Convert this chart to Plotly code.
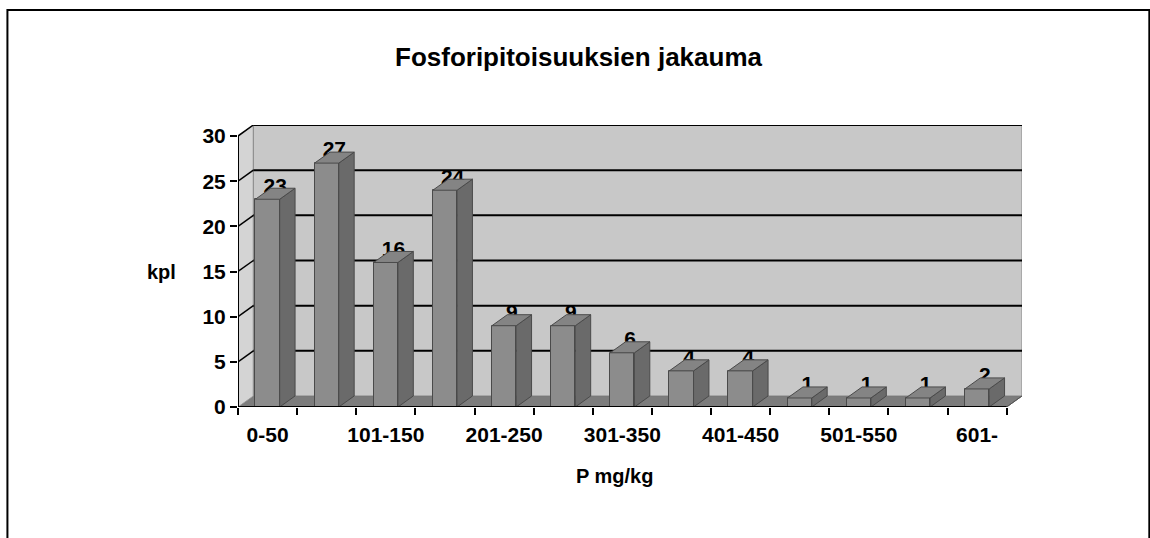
import plotly.graph_objects as go

categories = ["0-50", "51-100", "101-150", "151-200", "201-250", "251-300", "301-350",
              "351-400", "401-450", "451-500", "501-550", "551-600", "601-"]
counts = [23, 27, 16, 24, 9, 9, 6, 4, 4, 1, 1, 1, 2]
y_ticks = [0, 5, 10, 15, 20, 25, 30]

title_text = "Fosforipitoisuuksien jakauma"
y_title = "kpl"
x_title = "P mg/kg"

# pseudo-3D geometry (in axis units)
DX = 0.26      # depth offset along x
DY = 1.22      # depth offset along y
BW = 0.41      # bar front width
YMAX = 30
n = len(categories)
xs = list(range(n))
x_lo, x_hi = -0.5, n - 0.5

FRONT = "#8c8c8c"
SIDE = "#6a6a6a"
TOP = "#848484"
EDGE = "#4a4a4a"
FONT = "Liberation Sans, Arial, sans-serif"

fig = go.Figure()

# front faces
fig.add_trace(go.Bar(
    x=xs, y=counts, width=BW,
    marker=dict(color=FRONT, line=dict(color=EDGE, width=1)),
    hoverinfo="skip", showlegend=False,
))

# data labels (drawn before top faces so they are partly hidden)
fig.add_trace(go.Scatter(
    x=[x + DX / 2 for x in xs], y=[v + DY + 0.1 for v in counts],
    mode="text", text=[f"<b>{v}</b>" for v in counts],
    textfont=dict(family=FONT, size=21, color="black"),
    hoverinfo="skip", showlegend=False,
))

# side faces
sx, sy = [], []
for x, v in zip(xs, counts):
    x1 = x + BW / 2
    sx += [x1, x1 + DX, x1 + DX, x1, x1, None]
    sy += [0, DY, v + DY, v, 0, None]
fig.add_trace(go.Scatter(
    x=sx, y=sy, mode="lines", fill="toself", fillcolor=SIDE,
    line=dict(color=EDGE, width=1), hoverinfo="skip", showlegend=False,
))

# top faces
tx, ty = [], []
for x, v in zip(xs, counts):
    x0 = x - BW / 2
    x1 = x + BW / 2
    tx += [x0, x0 + DX, x1 + DX, x1, x0, None]
    ty += [v, v + DY, v + DY, v, v, None]
fig.add_trace(go.Scatter(
    x=tx, y=ty, mode="lines", fill="toself", fillcolor=TOP,
    line=dict(color=EDGE, width=1), hoverinfo="skip", showlegend=False,
))

shapes = []
# floor
shapes.append(dict(type="path", xref="x", yref="y", layer="below",
                   path=f"M {x_lo},0 L {x_hi},0 L {x_hi+DX},{DY} L {x_lo+DX},{DY} Z",
                   fillcolor="#7c7c7c", line=dict(color="#5a5a5a", width=1)))
# side wall
shapes.append(dict(type="path", xref="x", yref="y", layer="below",
                   path=f"M {x_lo},0 L {x_lo+DX},{DY} L {x_lo+DX},{YMAX+DY} L {x_lo},{YMAX} Z",
                   fillcolor="#d4d4d4", line=dict(color="#9a9a9a", width=1)))
# back wall
shapes.append(dict(type="rect", xref="x", yref="y", layer="below",
                   x0=x_lo + DX, x1=x_hi + DX, y0=DY, y1=YMAX + DY,
                   fillcolor="#c8c8c8", line=dict(color="#8a8a8a", width=1)))
# gridlines on back wall and side wall
for t in y_ticks[1:]:
    shapes.append(dict(type="line", xref="x", yref="y", layer="below",
                       x0=x_lo + DX, x1=x_hi + DX, y0=t + DY, y1=t + DY,
                       line=dict(color="black", width=2)))
    shapes.append(dict(type="line", xref="x", yref="y", layer="below",
                       x0=x_lo, x1=x_lo + DX, y0=t, y1=t + DY,
                       line=dict(color="black", width=1.5)))
# axis lines
shapes.append(dict(type="line", xref="x", yref="y", layer="above",
                   x0=x_lo, x1=x_lo, y0=0, y1=YMAX, line=dict(color="black", width=2)))
shapes.append(dict(type="line", xref="x", yref="y", layer="above",
                   x0=x_lo, x1=x_hi, y0=0, y1=0, line=dict(color="black", width=2)))
shapes.append(dict(type="line", xref="x", yref="y", layer="above",
                   x0=x_hi, x1=x_hi + DX, y0=0, y1=DY, line=dict(color="#555", width=1)))
# outer chart frame
shapes.append(dict(type="rect", xref="paper", yref="paper",
                   x0=-0.2941, x1=1.1624, y0=-0.6, y1=1.408,
                   line=dict(color="black", width=2), fillcolor="rgba(0,0,0,0)"))

annotations = [
    dict(text=f"<b>{title_text}</b>", xref="paper", yref="paper", x=0.435, y=1.241,
         xanchor="center", yanchor="middle",
         showarrow=False, font=dict(family=FONT, size=26, color="black")),
    dict(text=f"<b>{y_title}</b>", xref="paper", yref="paper", x=-0.097, y=0.479,
         xanchor="center", yanchor="middle",
         showarrow=False, font=dict(family=FONT, size=20, color="black")),
    dict(text=f"<b>{x_title}</b>", xref="paper", yref="paper", x=0.48, y=-0.245,
         xanchor="center", yanchor="middle",
         showarrow=False, font=dict(family=FONT, size=20, color="black")),
]

fig.update_layout(
    width=1150, height=538,
    margin=dict(l=238, r=128, t=125, b=131),
    paper_bgcolor="white", plot_bgcolor="rgba(0,0,0,0)",
    shapes=shapes, annotations=annotations,
    bargap=0,
    xaxis=dict(
        range=[x_lo, x_hi + DX], showgrid=False, zeroline=False, showline=False,
        tickmode="array", tickvals=xs[::2], ticktext=[f"<b>{c}</b>" for c in categories[::2]],
        ticks="outside", ticklen=9, tickcolor="rgba(0,0,0,0)",
        tickfont=dict(family=FONT, size=21, color="black"),
        minor=dict(tickmode="linear", tick0=-0.5, dtick=1, ticks="outside",
                   ticklen=7, tickwidth=2, tickcolor="black"),
        fixedrange=True,
    ),
    yaxis=dict(
        range=[0, YMAX + DY], showgrid=False, zeroline=False, showline=False,
        tickmode="array", tickvals=y_ticks, ticktext=[f"<b>{t}</b>" for t in y_ticks],
        ticks="outside", ticklen=7, tickwidth=2, tickcolor="black",
        tickfont=dict(family=FONT, size=21, color="black"),
        fixedrange=True,
    ),
)

fig.write_html("out.html", config={"displayModeBar": False},
               post_script="document.body.style.margin='0';document.body.style.overflow='hidden';")
